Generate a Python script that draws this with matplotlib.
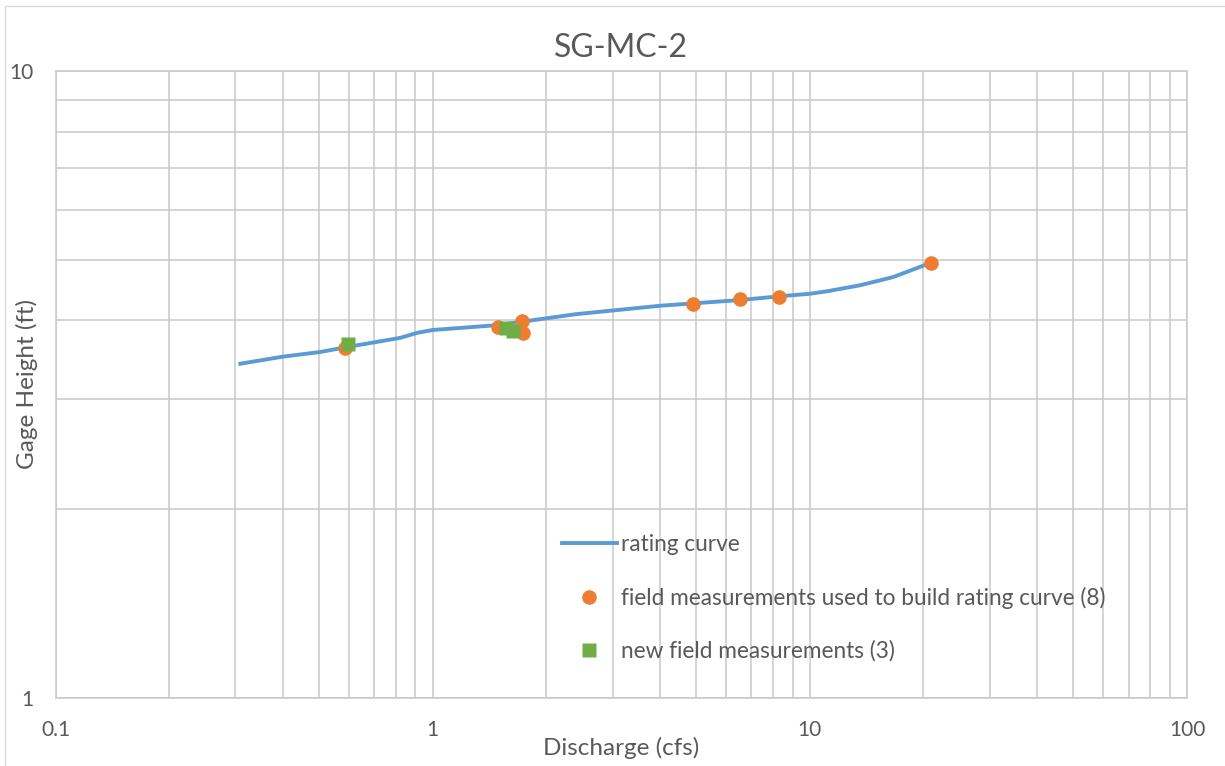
import matplotlib.pyplot as plt
from matplotlib.patches import Rectangle
from matplotlib.ticker import FixedLocator, NullFormatter

plt.rcParams['font.family'] = ['Lato', 'DejaVu Sans']

# rating curve (discharge in cfs, gage height in ft)
curve_q = [0.309, 0.401, 0.503, 0.584, 0.820, 0.910, 1.0, 1.487, 2.388,
           4.01, 6.54, 8.35, 10.0, 11.1, 13.6, 16.65, 20.9]
curve_h = [3.41, 3.50, 3.56, 3.62, 3.75, 3.82, 3.86, 3.93, 4.09,
           4.22, 4.31, 4.37, 4.41, 4.45, 4.55, 4.69, 4.94]

# field measurements used to build the curve
used_q = [0.584, 1.487, 1.722, 1.733, 4.89, 6.52, 8.27, 20.9]
used_h = [3.61, 3.91, 3.99, 3.82, 4.24, 4.32, 4.36, 4.94]

# new field measurements
new_q = [0.598, 1.561, 1.63]
new_h = [3.66, 3.89, 3.84]

grid_c = '#c9c9c9'
text_c = '#595959'

fig = plt.figure(figsize=(12.25, 7.66), dpi=100)
ax = fig.add_axes([55.5 / 1225, 1 - 697.5 / 766, (1187 - 55.5) / 1225, (697.5 - 71) / 766])

ax.plot(curve_q, curve_h, color='#5B9BD5', lw=2.8, label='rating curve', zorder=3)
ax.plot(used_q, used_h, 'o', color='#ED7D31', ms=10.5, mec='none',
        label='field measurements used to build rating curve (8)', zorder=4)
ax.plot(new_q, new_h, 's', color='#70AD47', ms=9.5, mec='none',
        label='new field measurements (3)', zorder=5)

ax.set_xscale('log')
ax.set_yscale('log')
ax.set_xlim(0.1, 100)
ax.set_ylim(1, 10)

ax.xaxis.set_major_locator(FixedLocator([0.1, 1, 10, 100]))
ax.yaxis.set_major_locator(FixedLocator([1, 10]))
ax.xaxis.set_major_formatter(plt.FixedFormatter(['0.1', '1', '10', '100']))
ax.yaxis.set_major_formatter(plt.FixedFormatter(['1', '10']))
ax.xaxis.set_minor_formatter(NullFormatter())
ax.yaxis.set_minor_formatter(NullFormatter())
ax.grid(True, which='both', color=grid_c, lw=1.1)
ax.tick_params(which='both', length=0, labelsize=15, colors=text_c)
ax.tick_params(axis='x', pad=16)
ax.tick_params(axis='y', pad=16)
for s in ax.spines.values():
    s.set_color(grid_c)
    s.set_linewidth(1.1)
ax.set_axisbelow(True)

ax.set_title('SG-MC-2', fontsize=23, color=text_c, pad=10)
ax.set_xlabel('Discharge (cfs)', fontsize=17.5, color=text_c)
ax.set_ylabel('Gage Height (ft)', fontsize=17.5, color=text_c)
ax.xaxis.set_label_coords(0.4998, -0.0806)
ax.xaxis.label.set_va('center')
ax.yaxis.set_label_coords(-0.0252, 0.5004)
ax.yaxis.label.set_va('center')

leg = ax.legend(loc='upper left', bbox_to_anchor=(0.43, 0.293), frameon=False,
                fontsize=16.25, labelcolor=text_c, labelspacing=1.39,
                handlelength=2.4, handletextpad=0.22)

# light chart border
fig.patches.append(Rectangle((5 / 1225, -0.05), 1.2, 1 - 6 / 766 + 0.05,
                             transform=fig.transFigure, fill=False,
                             ec='#d9d9d9', lw=1.0))

fig.savefig('out.png', dpi=100)
